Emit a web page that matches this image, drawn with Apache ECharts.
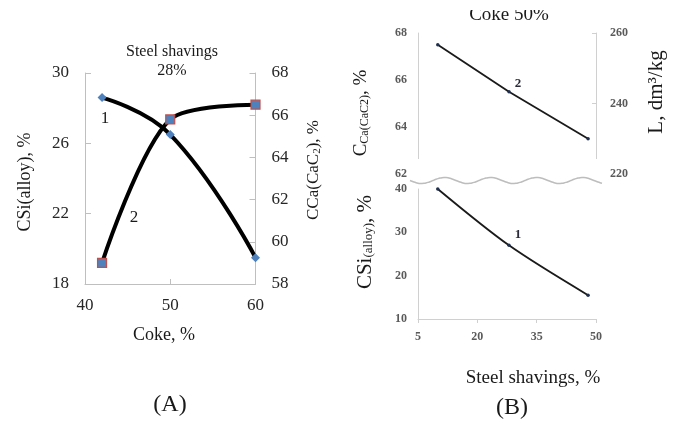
<!DOCTYPE html>
<html>
<head>
<meta charset="utf-8">
<script src="https://cdn.jsdelivr.net/npm/echarts@6/dist/echarts.min.js"></script>
<style>html,body{margin:0;padding:0;background:#fff;}#c{width:678px;height:421px;}</style>
</head>
<body>
<div id="c"></div>
<script>
// ---- Data ----
// Panel A: Coke % vs CSi(alloy) (left axis) and CCa(CaC2) (right axis), steel shavings 28%
var cokeA = [42, 50, 60];
var csiA = [28.6, 26.5, 19.5];
var ccaA = [59.0, 65.8, 66.5];
// Panel B: Steel shavings % (coke 50%)
var steelB = [10, 28, 48];
var ccaB = [67.5, 65.5, 63.5];
var csiB = [40, 27, 15.5];
// Axis tick settings
var aXTicks = {min: 40, max: 60, interval: 10};
var aYLeft = {min: 18, max: 30, interval: 4};
var aYRight = {min: 58, max: 68, interval: 2};
var bX = {min: 5, max: 50, interval: 15};
var bYUpL = {min: 62, max: 68, interval: 2};
var bYUpR = {min: 220, max: 260, interval: 20};
var bYLow = {min: 10, max: 40, interval: 10};

function pairs(xs, ys) { return xs.map(function (x, i) { return [x, ys[i]]; }); }

var SERIF = '"Liberation Serif", "DejaVu Serif", serif';
var gA = '#bfbfbf', gB = '#d0d0d0';
var labA = {fontFamily: SERIF, fontSize: 17, color: '#262626'};
var labB = {fontFamily: SERIF, fontSize: 12, fontWeight: 'bold', color: '#5a5a5a'};

function txt(x, y, text, size, extra) {
  var o = {type: 'text', z: 100, x: x, y: y, style: {text: text, font: size + 'px ' + SERIF, fill: '#1a1a1a', textAlign: 'center', textVerticalAlign: 'middle'}};
  if (extra) { for (var k in extra) { if (k === 'style') { for (var s in extra.style) o.style[s] = extra.style[s]; } else o[k] = extra[k]; } }
  return o;
}

// break wave decoration
var wave = [];
for (var px = 410; px <= 602; px += 2) { wave.push([px, 180.5 + 3 * Math.sin((px - 410) / 46 * 2 * Math.PI)]); }

var chart = echarts.init(document.getElementById('c'), null, {renderer: 'canvas'});
chart.setOption({
  animation: false,
  backgroundColor: '#fff',
  grid: [
    {left: 85, top: 73, width: 170.5, height: 211, outerBoundsMode: 'none'},
    {left: 418, top: 33, width: 178, height: 141, outerBoundsMode: 'none'},
    {left: 418, top: 189, width: 178, height: 130, outerBoundsMode: 'none'}
  ],
  xAxis: [
    {gridIndex: 0, type: 'value', min: aXTicks.min, max: aXTicks.max, interval: aXTicks.interval,
     axisLine: {lineStyle: {color: gA}}, axisTick: {inside: true, length: 5, lineStyle: {color: gA}},
     splitLine: {show: false}, axisLabel: Object.assign({margin: 13}, labA)},
    {gridIndex: 1, type: 'value', min: bX.min, max: bX.max, interval: bX.interval, show: false},
    {gridIndex: 2, type: 'value', min: bX.min, max: bX.max, interval: bX.interval,
     axisLine: {lineStyle: {color: gB}}, axisTick: {length: 4, lineStyle: {color: gB}},
     splitLine: {show: false}, axisLabel: Object.assign({margin: 12}, labB)}
  ],
  yAxis: [
    {gridIndex: 0, type: 'value', position: 'left', min: aYLeft.min, max: aYLeft.max, interval: aYLeft.interval,
     axisLine: {show: true, lineStyle: {color: gA}}, axisTick: {show: true, inside: true, length: 6, lineStyle: {color: gA}},
     splitLine: {show: false}, axisLabel: Object.assign({margin: 16}, labA)},
    {gridIndex: 0, type: 'value', position: 'right', min: aYRight.min, max: aYRight.max, interval: aYRight.interval,
     axisLine: {show: true, lineStyle: {color: gA}}, axisTick: {show: true, inside: true, length: 6, lineStyle: {color: gA}},
     splitLine: {show: false}, axisLabel: Object.assign({margin: 16}, labA)},
    {gridIndex: 1, type: 'value', position: 'left', min: bYUpL.min, max: bYUpL.max, interval: bYUpL.interval,
     axisLine: {show: true, lineStyle: {color: gB}}, axisTick: {show: false},
     splitLine: {show: false}, axisLabel: Object.assign({margin: 11}, labB)},
    {gridIndex: 1, type: 'value', position: 'right', min: bYUpR.min, max: bYUpR.max, interval: bYUpR.interval,
     axisLine: {show: true, lineStyle: {color: gB}}, axisTick: {show: true, inside: true, length: 4, lineStyle: {color: gB}},
     splitLine: {show: false}, axisLabel: Object.assign({margin: 14}, labB)},
    {gridIndex: 2, type: 'value', position: 'left', min: bYLow.min, max: bYLow.max, interval: bYLow.interval,
     axisLine: {show: true, lineStyle: {color: gB}}, axisTick: {show: false},
     splitLine: {show: false}, axisLabel: Object.assign({margin: 11}, labB)}
  ],
  series: [
    {type: 'line', xAxisIndex: 0, yAxisIndex: 0, data: pairs(cokeA, csiA), smooth: 0.45,
     lineStyle: {color: '#000', width: 4}, symbol: 'diamond', symbolSize: 9,
     itemStyle: {color: '#4f81bd', borderWidth: 0}, z: 3},
    {type: 'line', xAxisIndex: 0, yAxisIndex: 1, data: pairs(cokeA, ccaA), smooth: 0.3,
     lineStyle: {color: '#000', width: 4}, symbol: 'rect', symbolSize: 9,
     itemStyle: {color: '#4f81bd', borderColor: '#c0504d', borderWidth: 1.2}, z: 4},
    {type: 'line', xAxisIndex: 1, yAxisIndex: 2, data: pairs(steelB, ccaB), smooth: false,
     lineStyle: {color: '#1a1a1a', width: 1.8}, symbol: 'circle', symbolSize: 3.5,
     itemStyle: {color: '#1f2f4f'}},
    {type: 'line', xAxisIndex: 2, yAxisIndex: 4, data: pairs(steelB, csiB), smooth: 0.3,
     lineStyle: {color: '#1a1a1a', width: 1.8}, symbol: 'circle', symbolSize: 3.5,
     itemStyle: {color: '#1f2f4f'}}
  ],
  graphic: [
    // Panel A texts
    txt(172, 52, 'Steel shavings', 16),
    txt(172, 71, '28%', 16),
    txt(164, 335, 'Coke, %', 18),
    txt(170, 405, '(A)', 24),
    txt(25, 182, 'CSi(alloy), %', 18, {rotation: Math.PI / 2}),
    txt(314, 170, '', 17, {rotation: Math.PI / 2, style: {text: '{n|CCa(CaC}{s|2}{n|), %}',
      rich: {n: {font: '17px ' + SERIF, fill: '#1a1a1a'}, s: {font: '11px ' + SERIF, fill: '#1a1a1a', verticalAlign: 'bottom'}}}}),
    txt(105, 119, '1', 17),
    txt(134, 218, '2', 17),
    // Panel B: clipped title
    txt(509, 15, 'Coke 50%', 19),
    {type: 'rect', z: 101, shape: {x: 455, y: 0, width: 110, height: 10}, style: {fill: '#fff'}},
    // break mask + wave
    {type: 'rect', z: 99, shape: {x: 413, y: 159, width: 188, height: 28}, style: {fill: '#fff'}},
    {type: 'polyline', z: 100, shape: {points: wave, smooth: 0.3}, style: {stroke: '#bdbdbd', lineWidth: 1.5, fill: null}},
    txt(361, 113, '', 18, {rotation: Math.PI / 2, style: {text: '{b|C}{s|Ca(CaC2)}{b|, %}',
      rich: {b: {font: '19px ' + SERIF, fill: '#1a1a1a'}, s: {font: '12px ' + SERIF, fill: '#1a1a1a', verticalAlign: 'bottom'}}}}),
    txt(365, 242, '', 20, {rotation: Math.PI / 2, style: {text: '{b|CSi}{s|(alloy)}{b|, %}',
      rich: {b: {font: '21px ' + SERIF, fill: '#1a1a1a'}, s: {font: '13px ' + SERIF, fill: '#1a1a1a', verticalAlign: 'bottom'}}}}),
    txt(656, 92, 'L, dm³/kg', 21, {rotation: Math.PI / 2}),
    txt(533, 378, 'Steel shavings, %', 19),
    txt(512, 408, '(B)', 24),
    txt(518, 84, '2', 13, {style: {font: 'bold 13px ' + SERIF, fill: '#2a2a3a'}}),
    txt(518, 235, '1', 13, {style: {font: 'bold 13px ' + SERIF, fill: '#2a2a3a'}})
  ]
});
</script>
</body>
</html>
